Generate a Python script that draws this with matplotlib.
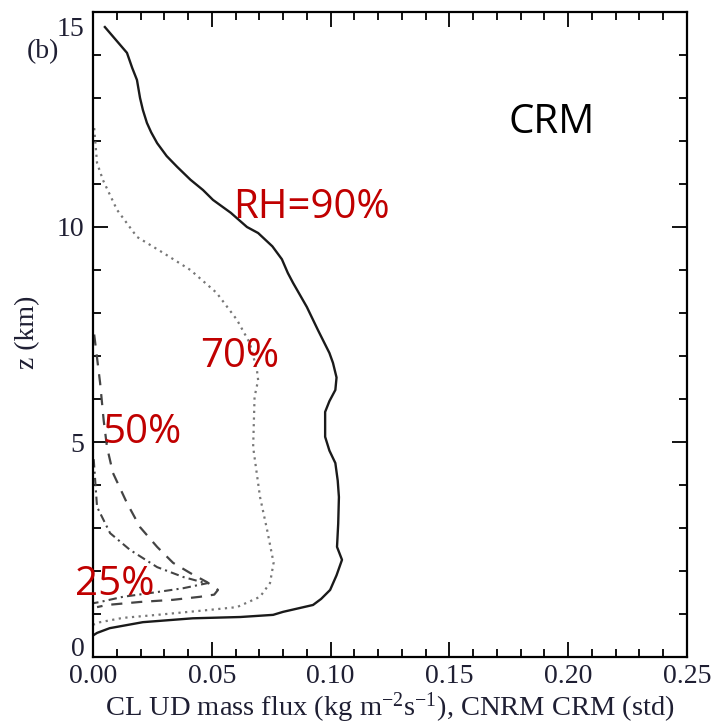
import matplotlib
matplotlib.use("Agg")
import matplotlib.pyplot as plt
from matplotlib.ticker import MultipleLocator
import matplotlib.transforms as mtransforms

plt.rcParams["mathtext.fontset"] = "custom"
plt.rcParams["mathtext.rm"] = "Liberation Serif"
plt.rcParams["mathtext.it"] = "Liberation Serif:italic"
plt.rcParams["mathtext.bf"] = "Liberation Serif:bold"

# ---- data (mass flux kg m-2 s-1 vs height km) ----
rh90_z = [14.65, 14.05, 13.7, 13.42, 13.0, 12.72, 12.42, 12.2, 11.95, 11.65, 11.40, 11.1, 10.86,
          10.63, 10.33, 10.0, 9.86, 9.55, 9.25, 8.93, 8.70, 8.14, 7.60, 7.07, 6.84, 6.5, 6.21,
          5.95, 5.70, 5.12, 4.8, 4.51, 4.1, 3.72, 3.1, 2.56, 2.26, 1.9, 1.56, 1.35, 1.21, 1.05,
          0.98, 0.93, 0.90, 0.81, 0.67, 0.56, 0.50]
rh90_x = [0.005, 0.0143, 0.0165, 0.0185, 0.0198, 0.021, 0.0227, 0.0245, 0.027, 0.031, 0.0354, 0.041, 0.0463,
          0.0505, 0.058, 0.0648, 0.0695, 0.0755, 0.0795, 0.082, 0.0842, 0.090, 0.0947, 0.0995, 0.101, 0.1025, 0.102,
          0.0995, 0.0977, 0.0977, 0.0995, 0.102, 0.103, 0.1035, 0.1032, 0.1027, 0.1048, 0.1025, 0.0998, 0.096, 0.0926, 0.08,
          0.0758, 0.062, 0.042, 0.021, 0.007, 0.0017, 0.0]

rh70_z = [12.3, 11.49, 11.09, 10.40, 9.77, 9.40, 9.0, 8.47, 7.84, 7.30, 6.67, 6.44, 6.05, 4.88,
          3.72, 2.95, 2.19, 1.72, 1.40, 1.16, 1.09, 0.98, 0.91, 0.81, 0.75]
rh70_x = [0.0005, 0.0017, 0.0042, 0.0101, 0.0185, 0.0295, 0.041, 0.052, 0.0606, 0.066, 0.069, 0.0695, 0.068, 0.0674,
          0.0703, 0.0733, 0.076, 0.0745, 0.0703, 0.0606, 0.048, 0.027, 0.0126, 0.003, 0.0]

rh50_z = [7.5, 6.37, 5.5, 4.88, 4.28, 3.58, 3.02, 2.56, 2.19, 1.95, 1.74, 1.56, 1.45, 1.40,
          1.33, 1.28, 1.21, 1.16]
rh50_x = [0.0005, 0.003, 0.0045, 0.0059, 0.0084, 0.0143, 0.0198, 0.027, 0.0337, 0.041, 0.048, 0.0526, 0.051, 0.045,
          0.0337, 0.0198, 0.0059, 0.0017]

rh25_z = [4.6, 3.49, 2.88, 2.49, 2.09, 1.86, 1.74, 1.72, 1.60, 1.51, 1.40, 1.28, 1.25]
rh25_x = [0.0003, 0.0017, 0.0072, 0.0156, 0.027, 0.038, 0.046, 0.0484, 0.038, 0.027, 0.0126, 0.003, 0.0]

xticks = [0.00, 0.05, 0.10, 0.15, 0.20, 0.25]
yticks = [0, 5, 10, 15]

serif = "Liberation Serif"
txtcol = "#1f1f33"
red = "#C00000"

fig = plt.figure(figsize=(7.15, 7.26), dpi=100)
ax = fig.add_axes([93/715, 69/726, 594/715, 645/726])

ax.plot(rh90_x, rh90_z, color="#1a1a1a", lw=1.7, ls="-")
ax.plot(rh70_x, rh70_z, color="#777777", lw=1.6, ls=(0, (1, 2)))
ax.plot(rh50_x, rh50_z, color="#444444", lw=1.6, ls=(0, (5, 4)))
ax.plot(rh25_x, rh25_z, color="#444444", lw=1.5, ls=(0, (4, 2, 1, 2)))

ax.set_xlim(0, 0.25)
ax.set_ylim(0, 15)
ax.set_xticks(xticks)
ax.set_xticklabels([f"{v:.2f}" for v in xticks])
ax.set_yticks(yticks)
ax.set_yticklabels([str(v) for v in yticks])
ax.xaxis.set_minor_locator(MultipleLocator(0.01))
ax.yaxis.set_minor_locator(MultipleLocator(1))
ax.tick_params(which="both", direction="in", top=True, right=True, width=1.3, color="black")
ax.tick_params(which="major", length=11)
ax.tick_params(which="minor", length=6)
ax.tick_params(axis="x", which="major", pad=5)
ax.tick_params(axis="y", which="major", pad=6)
for lab in ax.get_xticklabels() + ax.get_yticklabels():
    lab.set_fontfamily(serif)
    lab.set_fontsize(20)
    lab.set_color(txtcol)
for sp in ax.spines.values():
    sp.set_linewidth(1.6)

# shift the 0 and 15 y labels inward as in the reference
ylabs = ax.get_yticklabels()
ylabs[0].set_transform(ylabs[0].get_transform() + mtransforms.ScaledTranslation(0, 10/100, fig.dpi_scale_trans))
ylabs[-1].set_transform(ylabs[-1].get_transform() + mtransforms.ScaledTranslation(0, -14/100, fig.dpi_scale_trans))

fig.text(390/715, 10/726, r"CL UD mass flux (kg m$^{\mathrm{-2}}$s$^{\mathrm{-1}}$), CNRM CRM (std)",
         fontfamily=serif, fontsize=20.5, color=txtcol, ha="center", va="baseline")
fig.text(28/715, 1 - 332/726, "z (km)", fontfamily=serif, fontsize=20, color=txtcol,
         rotation=90, ha="center", va="center")
fig.text(43/715, 1 - 52/726, "(b)", fontfamily=serif, fontsize=20, color=txtcol, ha="center", va="center")

ann = dict(fontfamily="Open Sans", fontsize=29, ha="left", va="baseline", clip_on=False)
ax.text(0.0589, 10.21, "RH=90%", color=red, **ann)
ax.text(0.045, 6.74, "70%", color=red, **ann)
ax.text(0.0038, 4.98, "50%", color=red, **ann)
ax.text(-0.0076, 1.44, "25%", color=red, **ann)
ax.text(0.1747, 12.19, "CRM", color="black", **ann)

fig.savefig("out.png", dpi=100)
